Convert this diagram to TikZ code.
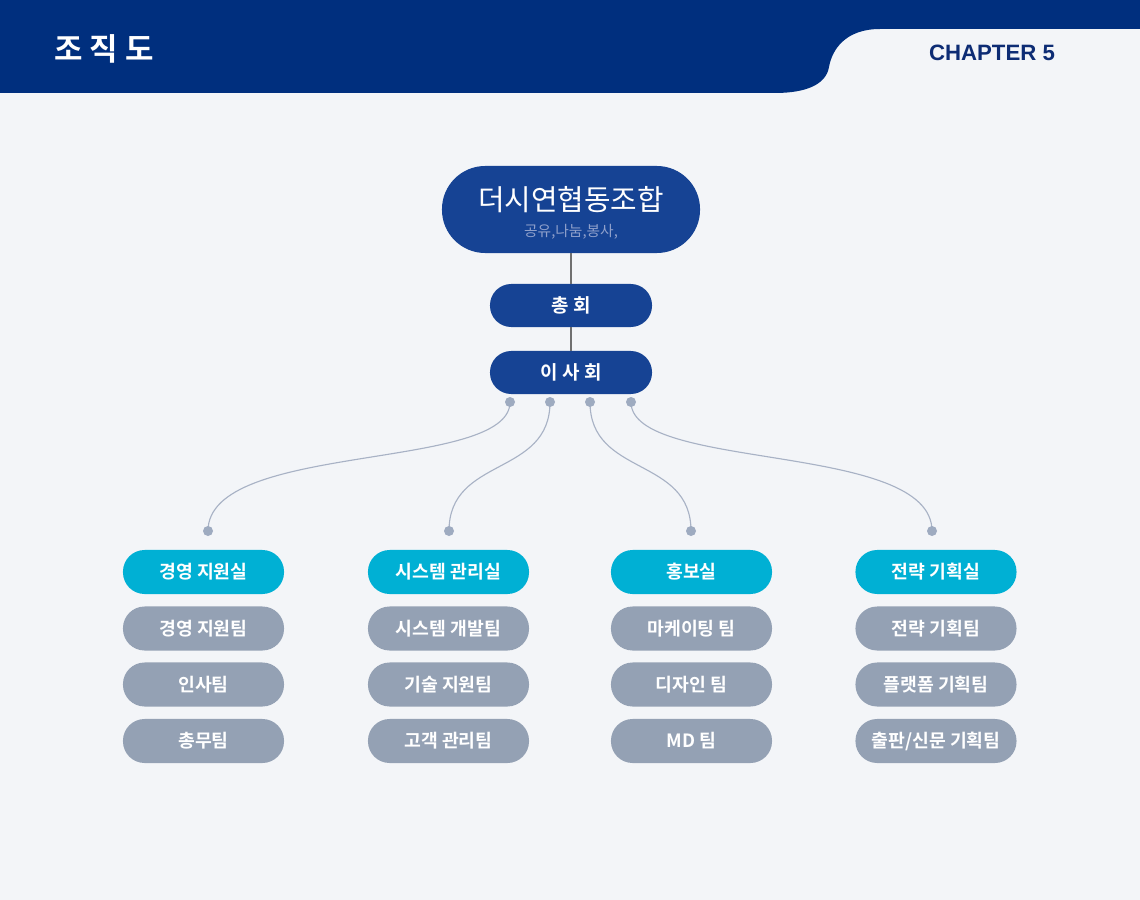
\documentclass[tikz,border=0pt]{standalone}
\usepackage{fontspec}
\setmainfont{Noto Sans CJK KR}[BoldFont={Noto Sans CJK KR Bold}]
\newfontfamily\chapfont{Liberation Sans}

\definecolor{pagebg}{HTML}{F3F5F8}
\definecolor{headblue}{HTML}{002F7E}
\definecolor{chapblue}{HTML}{0D2C74}
\definecolor{unionblue}{HTML}{164394}
\definecolor{mottoblue}{HTML}{8FA0CB}
\definecolor{officecyan}{HTML}{00B0D4}
\definecolor{teamgray}{HTML}{94A1B4}
\definecolor{stemgray}{HTML}{707070}
\definecolor{branchgray}{HTML}{A8B2C5}
\definecolor{dotgray}{HTML}{9EABC0}

\begin{document}
\begin{tikzpicture}[%
        x = 0.025cm,
        y = -0.025cm,
        headnode/.style = {
            fill = unionblue, rounded corners = 1.08cm,
            minimum width = 6.45cm, minimum height = 2.175cm, inner sep = 0pt
        },
        board/.style = {
            fill = unionblue, rounded corners = 0.53cm, text = white,
            minimum width = 4.05cm, minimum height = 1.075cm, inner sep = 0pt,
            font = \bfseries\fontsize{13.5}{15}\selectfont
        },
        office/.style = {
            fill = officecyan, rounded corners = 0.54cm, text = white,
            minimum width = 4.025cm, minimum height = 1.1cm, inner sep = 0pt,
            font = \bfseries\fontsize{13}{15}\selectfont
        },
        team/.style = {office, fill = teamgray},
        stem/.style = {draw = stemgray, line width = 1.3pt},
        branch/.style = {draw = branchgray, line width = 0.8pt},
        dot/.style = {fill = dotgray}
    ]

        % Page and header band.
        \useasboundingbox (0, 0) rectangle (1140, 900);
        \fill[pagebg] (0, 0) rectangle (1140, 900);
        \fill[headblue] (0, 0) -- (1140, 0) -- (1140, 29) -- (880, 29)
            .. controls (845, 29) and (832, 50) .. (829, 67)
            .. controls (826, 85) and (805, 93) .. (775, 93)
            -- (0, 93) -- cycle;
        \node[text = white, font = \bfseries\fontsize{22}{24}\selectfont]
            (title) at (104, 49) {조 직 도};
        \node[text = chapblue, font = \chapfont\bfseries\fontsize{15.8}{17}\selectfont]
            (chapter) at (992, 53) {CHAPTER 5};

        % Union, assembly and board.
        \node[headnode] (union) at (571, 209.5) {};
        \node[text = white, font = \fontsize{20.5}{22}\selectfont]
            (unionname) at (571, 200) {더시연협동조합};
        \node[text = mottoblue, font = \fontsize{10.5}{12}\selectfont]
            (motto) at (571, 232) {공유,나눔,봉사,};
        \node[board] (assembly) at (571, 305.5) {총 회};
        \node[board] (directors) at (571, 372.5) {이 사 회};
        \draw[stem] (union) to (assembly);
        \draw[stem] (assembly) to (directors);

        % Branch points.
        \coordinate (t1) at (510, 402);
        \coordinate (t2) at (550, 402);
        \coordinate (t3) at (590, 402);
        \coordinate (t4) at (631, 402);
        \coordinate (b1) at (208, 531);
        \coordinate (b2) at (449, 531);
        \coordinate (b3) at (691, 531);
        \coordinate (b4) at (932, 531);

        \draw[branch] (t1) .. controls +(0, 70) and +(0, -90) .. (b1);
        \draw[branch] (t2) .. controls +(0, 75) and +(0, -75) .. (b2);
        \draw[branch] (t3) .. controls +(0, 75) and +(0, -75) .. (b3);
        \draw[branch] (t4) .. controls +(0, 70) and +(0, -90) .. (b4);
        \fill[dot] (t1) circle (5);
        \fill[dot] (t2) circle (5);
        \fill[dot] (t3) circle (5);
        \fill[dot] (t4) circle (5);
        \fill[dot] (b1) circle (5);
        \fill[dot] (b2) circle (5);
        \fill[dot] (b3) circle (5);
        \fill[dot] (b4) circle (5);

        % Offices and their teams.
        \node[office] (support) at (203.5, 572) {경영 지원실};
        \node[team] (supportA) at (203.5, 628.5) {경영 지원팀};
        \node[team] (supportB) at (203.5, 684.5) {인사팀};
        \node[team] (supportC) at (203.5, 741) {총무팀};

        \node[office] (system) at (448.5, 572) {시스템 관리실};
        \node[team] (systemA) at (448.5, 628.5) {시스템 개발팀};
        \node[team] (systemB) at (448.5, 684.5) {기술 지원팀};
        \node[team] (systemC) at (448.5, 741) {고객 관리팀};

        \node[office] (pr) at (691.5, 572) {홍보실};
        \node[team] (prA) at (691.5, 628.5) {마케이팅 팀};
        \node[team] (prB) at (691.5, 684.5) {디자인 팀};
        \node[team] (prC) at (691.5, 741) {MD 팀};

        \node[office] (plan) at (936, 572) {전략 기획실};
        \node[team] (planA) at (936, 628.5) {전략 기획팀};
        \node[team] (planB) at (936, 684.5) {플랫폼 기획팀};
        \node[team] (planC) at (936, 741) {출판/신문 기획팀};
    \end{tikzpicture}
\end{document}
